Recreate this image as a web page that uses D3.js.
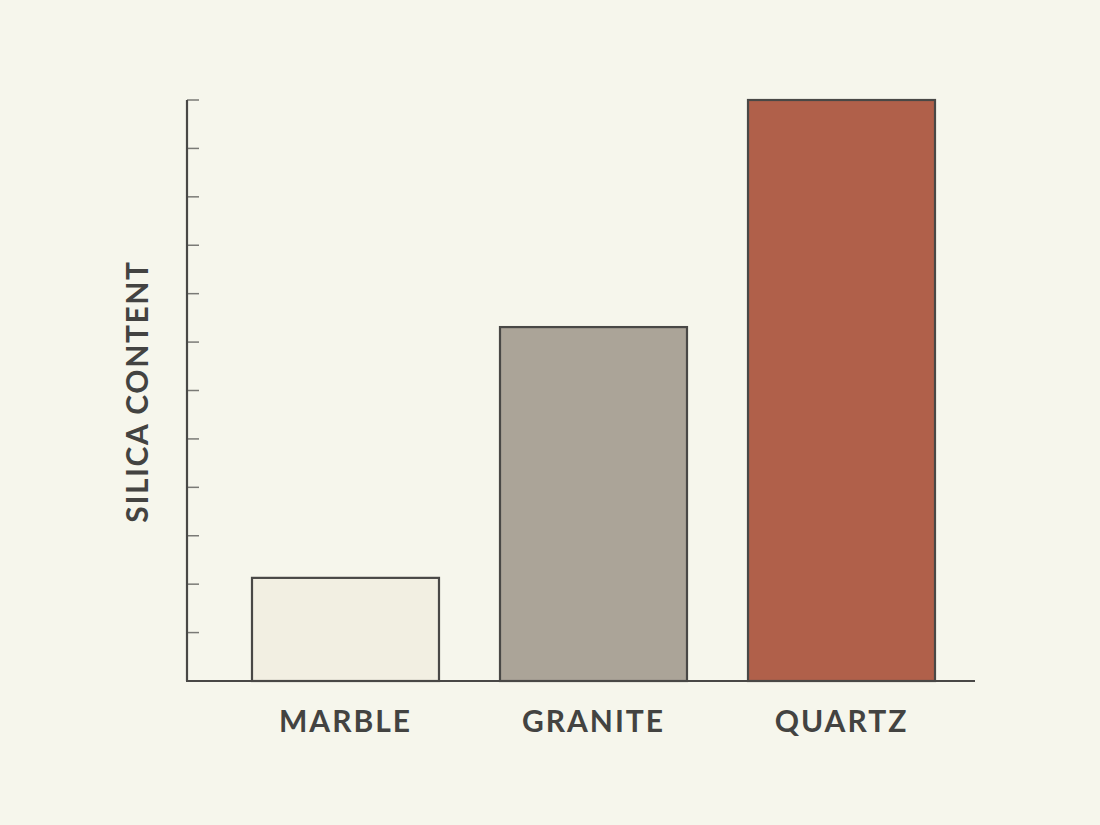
<!DOCTYPE html>
<html><head><meta charset="utf-8">
<script src="https://cdn.jsdelivr.net/npm/d3@7"></script>
<style>html,body{margin:0;padding:0;background:#f6f6ec;}</style>
</head><body>
<script>
const categories = ["MARBLE", "GRANITE", "QUARTZ"];
const values = [2.13, 7.31, 12];
const colors = ["#f2efe2", "#aba498", "#b0604a"];
const yTicks = d3.range(0, 13);
const yLabel = "SILICA CONTENT";

const W = 1100, H = 825;
const svg = d3.select("body").append("svg").attr("width", W).attr("height", H)
  .style("background", "#f6f6ec");

const x0 = 187, x1 = 975, yTop = 100, yBot = 681;
const x = d3.scaleBand().domain(categories).range([190, 997]).paddingInner(0.246).paddingOuter(0.25);
const y = d3.scaleLinear().domain([0, 12]).range([yBot, yTop]);

// ticks (inward)
svg.append("g").selectAll("line").data(yTicks).join("line")
  .attr("x1", x0).attr("x2", 199)
  .attr("y1", d => y(d)).attr("y2", d => y(d))
  .attr("stroke", "#7a7a76").attr("stroke-width", 1.5);

// bars
svg.append("g").selectAll("rect").data(categories).join("rect")
  .attr("x", d => x(d)).attr("width", x.bandwidth())
  .attr("y", (d, i) => y(values[i])).attr("height", (d, i) => yBot - y(values[i]))
  .attr("fill", (d, i) => colors[i]).attr("stroke", "#494846").attr("stroke-width", 2.2);

// axes lines
svg.append("line").attr("x1", x0).attr("x2", x0).attr("y1", yTop).attr("y2", yBot)
  .attr("stroke", "#494846").attr("stroke-width", 2.2);
svg.append("line").attr("x1", x0 - 1).attr("x2", x1).attr("y1", yBot).attr("y2", yBot)
  .attr("stroke", "#494846").attr("stroke-width", 2.2);

const font = "Lato, 'Open Sans', sans-serif";
// category labels
svg.append("g").selectAll("text").data(categories).join("text")
  .attr("x", d => x(d) + x.bandwidth() / 2).attr("y", 732)
  .attr("text-anchor", "middle")
  .style("font-family", font).style("font-weight", 700)
  .style("font-size", "30px").style("letter-spacing", "2px")
  .attr("fill", "#434341").text(d => d);

// y label
svg.append("text")
  .attr("transform", `translate(148,${(262 + 521) / 2}) rotate(-90)`)
  .attr("text-anchor", "middle")
  .style("font-family", font).style("font-weight", 700)
  .style("font-size", "30px").style("letter-spacing", "1.6px")
  .attr("fill", "#434341").text(yLabel);
</script>
</body></html>
